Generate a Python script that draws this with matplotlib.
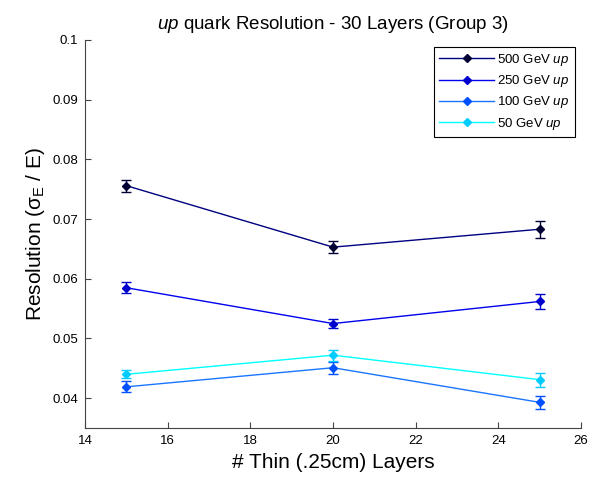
import numpy as np
import matplotlib
matplotlib.use('Agg')
import matplotlib.pyplot as plt

plt.rcParams['font.family'] = ['Liberation Sans', 'DejaVu Sans']
plt.rcParams['mathtext.fontset'] = 'custom'
plt.rcParams['mathtext.rm'] = 'Liberation Sans'
plt.rcParams['mathtext.it'] = 'Liberation Sans:italic'
plt.rcParams['mathtext.sf'] = 'Liberation Sans'

# thin layer counts
layers = [15, 20, 25]

# resolution and error per energy
res_500 = [0.0756, 0.0653, 0.0683]
err_500 = [0.0010, 0.0010, 0.0014]
res_250 = [0.0585, 0.0525, 0.0562]
err_250 = [0.0009, 0.0007, 0.0012]
res_100 = [0.0419, 0.0451, 0.0393]
err_100 = [0.0009, 0.0010, 0.0011]
res_50 = [0.0440, 0.0472, 0.0431]
err_50 = [0.0007, 0.0009, 0.0012]

labels = ['500 GeV $\\it{up}$', '250 GeV $\\it{up}$', '100 GeV $\\it{up}$', '50 GeV $\\it{up}$']
line_colors = ['#000080', '#0000ee', '#1a75ff', '#00ffff']
marker_colors = ['#000033', '#0000cc', '#0050ff', '#00ccff']

fig = plt.figure(figsize=(5.96, 4.86), dpi=100)
ax = fig.add_axes([0.1426, 0.1193, 0.8324, 0.7984])

series = [(res_500, err_500), (res_250, err_250), (res_100, err_100), (res_50, err_50)]
handles = []
for (vals, errs), lc, mc in zip(series, line_colors, marker_colors):
    eb = ax.errorbar(layers, vals, yerr=errs, color=lc, ecolor=mc, elinewidth=1.0, capsize=3.5,
                     capthick=1.0, marker='D', markersize=4.5, markerfacecolor=mc,
                     markeredgecolor=mc, linewidth=1.0)
    handles.append(eb.lines[0])  # legend shows line + marker only

ax.set_xlim(14, 26)
ax.set_ylim(0.035, 0.1)
ax.set_xticks(np.arange(14, 27, 2))
ax.set_yticks([0.04, 0.05, 0.06, 0.07, 0.08, 0.09, 0.1])
ax.set_yticklabels(['0.04', '0.05', '0.06', '0.07', '0.08', '0.09', '0.1'])
ax.tick_params(direction='in', labelsize=9.5, length=4, color='#444444', pad=5)
ax.spines['top'].set_visible(False)
ax.spines['right'].set_visible(False)
for s in ['left', 'bottom']:
    ax.spines[s].set_color('#444444')

ax.set_title('$\\it{up}$ quark Resolution - 30 Layers (Group 3)', fontsize=13.5, pad=8)
ax.set_xlabel('# Thin (.25cm) Layers', fontsize=15)
ax.set_ylabel('Resolution (σ$_{\\rm E}$ / E)', fontsize=15)

leg = ax.legend(handles, labels, loc='upper right', fontsize=9.5, fancybox=False,
                edgecolor='black', framealpha=1, borderaxespad=0.5, handlelength=4.2,
                labelspacing=0.4, handletextpad=0.2)
leg.get_frame().set_linewidth(0.8)

fig.savefig('out.png', dpi=100)
